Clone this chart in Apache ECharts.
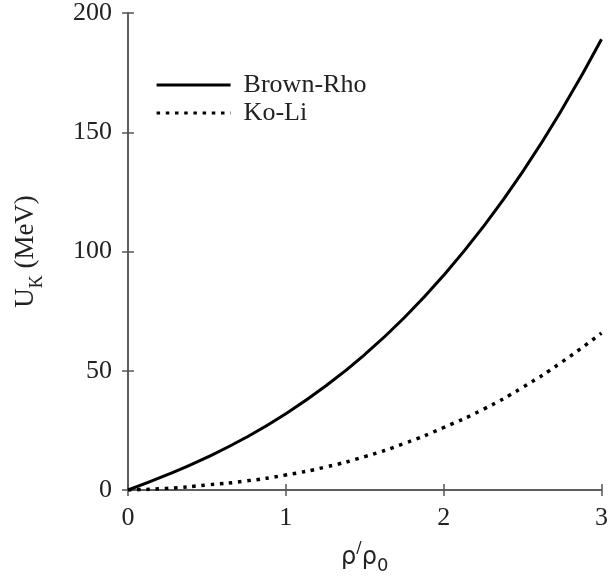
<!DOCTYPE html>
<html>
<head>
<meta charset="utf-8">
<script src="https://cdn.jsdelivr.net/npm/echarts@6/dist/echarts.min.js"></script>
<style>html,body{margin:0;padding:0;background:#fff;}#c{width:611px;height:583px;}</style>
</head>
<body>
<div id="c"></div>
<script>
const rho = [0, 0.25, 0.5, 0.75, 1, 1.25, 1.5, 1.75, 2, 2.25, 2.5, 2.75, 3];
const brownRho = [0, 6.4, 13.7, 22.1, 32, 43.5, 56.8, 72.2, 90, 110.3, 133.4, 159.6, 189];
const koLi = [0, 0.7, 2.1, 3.8, 6.3, 9.6, 14.0, 19.5, 26.2, 33.8, 43.0, 53.7, 65.8];
const xTicks = [0, 1, 2, 3];
const yTicks = [0, 50, 100, 150, 200];

const serif = '"Liberation Serif", "DejaVu Serif", serif';
const axisColor = '#555';
const chart = echarts.init(document.getElementById('c'), null, {renderer: 'canvas'});

function pairs(xs, ys) { return xs.map((x, i) => [x, ys[i]]); }

const baseX = {
  type: 'value', min: xTicks[0], max: xTicks[xTicks.length - 1], interval: 1,
  axisLine: {show: true, lineStyle: {color: axisColor, width: 1.5}},
  axisTick: {show: true, inside: true, length: 6, lineStyle: {color: axisColor, width: 1.5}},
  splitLine: {show: false}
};
const baseY = {
  type: 'value', min: yTicks[0], max: yTicks[yTicks.length - 1], interval: 50,
  axisLine: {show: true, lineStyle: {color: axisColor, width: 1.5}},
  axisTick: {show: true, inside: true, length: 6, lineStyle: {color: axisColor, width: 1.5}},
  splitLine: {show: false}
};

chart.setOption({
  backgroundColor: '#fff',
  animation: false,
  grid: {left: 128, right: 6, top: 13, bottom: 93, containLabel: false},
  legend: {
    orient: 'vertical', left: 150, top: 66, itemWidth: 74, itemHeight: 14, itemGap: 0,
    selectedMode: false,
    itemStyle: {opacity: 0},
    lineStyle: {width: 3.2},
    textStyle: {fontFamily: serif, fontSize: 26, color: '#222', lineHeight: 28, padding: [0, 0, 0, 8]},
    data: ['Brown-Rho', 'Ko-Li']
  },
  xAxis: [
    Object.assign({}, baseX, {
      position: 'bottom',
      axisLabel: {fontFamily: serif, fontSize: 26, color: '#222', margin: 15},
      name: '{r|ρ}{s|/}{r|ρ}{z|0}', nameLocation: 'middle', nameGap: 51,
      nameTextStyle: {
        rich: {
          r: {fontFamily: '"DejaVu Sans", sans-serif', fontSize: 24, color: '#222', lineHeight: 34},
          s: {fontFamily: '"DejaVu Sans", sans-serif', fontSize: 16, color: '#222', lineHeight: 22, verticalAlign: 'top'},
          z: {fontFamily: '"DejaVu Sans", sans-serif', fontSize: 18, color: '#222', lineHeight: 14, verticalAlign: 'bottom'}
        }
      }
    }),
    Object.assign({}, baseX, {position: 'top', axisLabel: {show: false}})
  ],
  yAxis: [
    Object.assign({}, baseY, {
      position: 'left',
      axisLabel: {fontFamily: serif, fontSize: 26, color: '#222', margin: 16},
      name: '{a|U}{k|K}{a| (MeV)}', nameLocation: 'middle', nameGap: 82, nameRotate: 90,
      nameTextStyle: {
        rich: {
          a: {fontFamily: serif, fontSize: 27, color: '#222', lineHeight: 40},
          k: {fontFamily: serif, fontSize: 18, color: '#222', lineHeight: 12, verticalAlign: 'bottom'}
        }
      }
    }),
    Object.assign({}, baseY, {position: 'right', axisLabel: {show: false}})
  ],
  series: [
    {
      name: 'Brown-Rho', type: 'line', smooth: true, symbol: 'none',
      xAxisIndex: 0, yAxisIndex: 0,
      lineStyle: {color: '#000', width: 3, type: 'solid'},
      itemStyle: {color: '#000'},
      data: pairs(rho, brownRho)
    },
    {
      name: 'Ko-Li', type: 'line', smooth: true, symbol: 'none',
      xAxisIndex: 0, yAxisIndex: 0,
      lineStyle: {color: '#000', width: 3.5, type: [3.5, 5.7], cap: 'butt'},
      itemStyle: {color: '#000'},
      data: pairs(rho, koLi)
    }
  ]
});
</script>
</body>
</html>
